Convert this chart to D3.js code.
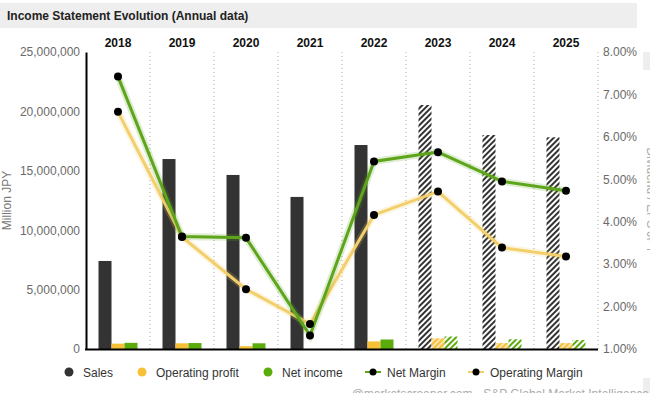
<!DOCTYPE html>
<html>
<head>
<meta charset="utf-8">
<script src="https://cdn.jsdelivr.net/npm/d3@7/dist/d3.min.js"></script>
<style>
  body { margin: 0; background: #fff; }
  svg { font-family: "Liberation Sans", Arial, sans-serif; display: block; }
</style>
</head>
<body>
<svg id="chart" width="650" height="393"></svg>
<script>
// values (million JPY / %)
var years = ["2018", "2019", "2020", "2021", "2022", "2023", "2024", "2025"];
var sales = [7.41e6, 15.99e6, 14.65e6, 12.8e6, 17.17e6, 20.54e6, 18.01e6, 17.82e6];
var opProfit = [0.45e6, 0.48e6, 0.24e6, null, 0.64e6, 0.9e6, 0.5e6, 0.5e6];
var netIncome = [0.52e6, 0.5e6, 0.48e6, null, 0.8e6, 1.05e6, 0.82e6, 0.76e6];
var netMargin = [7.42, 3.65, 3.62, 1.32, 5.42, 5.64, 4.95, 4.73];
var opMargin = [6.59, 3.64, 2.41, 1.59, 4.16, 4.71, 3.39, 3.18];
var estimated = ["2023", "2024", "2025"];
var leftTicks = [0, 5e6, 10e6, 15e6, 20e6, 25e6];
var rightTicks = [1, 2, 3, 4, 5, 6, 7, 8];

function setupChart() {
  var svg = d3.select("#chart");

  var left = 86, right = 598, plotTop = 52, bottom = 349;

  var x = d3.scaleBand().domain(years).range([left, right]);
  var xSub = d3.scaleBand().domain(["sales", "op", "net"]).range([0, 39]);
  var y = d3.scaleLinear().domain([0, 25e6]).range([bottom, plotTop]);
  var y2 = d3.scaleLinear().domain([1, 8]).range([bottom, plotTop]);

  var colors = { sales: "#333333", op: "#f6c137", net: "#5aab0c" };

  // hatch patterns for the estimated years
  var defs = svg.append("defs");
  Object.keys(colors).forEach(function(k) {
    var p = defs.append("pattern")
        .attr("id", "hatch-" + k)
        .attr("patternUnits", "userSpaceOnUse")
        .attr("width", 4).attr("height", 4)
        .attr("patternTransform", "rotate(45)");
    p.append("rect").attr("width", 4).attr("height", 4)
        .attr("fill", k === "op" ? "#fbe6b0" : "#fff");
    p.append("rect").attr("width", 2).attr("height", 4).attr("fill", colors[k]);
  });

  // title bar
  svg.append("rect").attr("x", 0).attr("y", 3).attr("width", 637).attr("height", 25).attr("fill", "#eeeeee");
  svg.append("text").attr("x", 7).attr("y", 20)
      .attr("font-size", 12).attr("font-weight", "bold").attr("fill", "#222")
      .text("Income Statement Evolution (Annual data)");
  svg.append("rect").attr("x", 643).attr("y", 52).attr("width", 7).attr("height", 18).attr("fill", "#eeeeee");
  svg.append("rect").attr("x", 643).attr("y", 378).attr("width", 7).attr("height", 15).attr("fill", "#eeeeee");

  // dotted separators
  svg.append("g").selectAll("line")
    .data(years)
    .enter().append("line")
      .attr("x1", d => x(d) + x.bandwidth())
      .attr("x2", d => x(d) + x.bandwidth())
      .attr("y1", plotTop).attr("y2", bottom)
      .attr("stroke", "#aaa").attr("stroke-width", 1)
      .attr("stroke-dasharray", "1,3");

  // year labels on top
  svg.append("g").selectAll("text")
    .data(years)
    .enter().append("text")
      .attr("x", d => x(d) + x.bandwidth() / 2)
      .attr("y", 47)
      .attr("text-anchor", "middle")
      .attr("font-size", 12).attr("font-weight", "bold").attr("fill", "#111")
      .text(d => d);

  // bars
  var barData = [];
  years.forEach(function(yr, i) {
    barData.push({ year: yr, key: "sales", value: sales[i] });
    barData.push({ year: yr, key: "op", value: opProfit[i] });
    barData.push({ year: yr, key: "net", value: netIncome[i] });
  });
  var bw = xSub.bandwidth();
  svg.append("g").selectAll("rect")
    .data(barData.filter(d => d.value != null))
    .enter().append("rect")
      .attr("x", d => x(d.year) + x.bandwidth() / 2 - 19.5 + xSub(d.key))
      .attr("width", bw)
      .attr("y", d => y(d.value))
      .attr("height", d => bottom - y(d.value))
      .attr("fill", d => estimated.indexOf(d.year) >= 0 ? "url(#hatch-" + d.key + ")" : colors[d.key]);

  // axes
  var leftAxis = svg.append("g")
      .attr("transform", "translate(" + left + ",0)")
      .call(d3.axisLeft(y).tickValues(leftTicks).tickFormat(d3.format(",")).tickSize(0).tickPadding(6));
  leftAxis.select(".domain").attr("stroke", "#000").attr("stroke-width", 2);
  leftAxis.selectAll("text").attr("font-size", 12).attr("fill", "#6a6a6a")
      .attr("font-family", "Liberation Sans, Arial, sans-serif");

  var rightAxis = svg.append("g")
      .attr("transform", "translate(" + right + ",0)")
      .call(d3.axisRight(y2).tickValues(rightTicks).tickFormat(d => d.toFixed(2) + "%").tickSize(0).tickPadding(5));
  rightAxis.select(".domain").remove();
  rightAxis.selectAll("text").attr("font-size", 12).attr("fill", "#6a6a6a")
      .attr("font-family", "Liberation Sans, Arial, sans-serif");

  svg.append("line")
      .attr("x1", left - 1).attr("x2", right)
      .attr("y1", bottom + 0.5).attr("y2", bottom + 0.5)
      .attr("stroke", "#000").attr("stroke-width", 2);

  svg.append("text")
      .attr("transform", "translate(11," + ((plotTop + bottom) / 2) + ") rotate(-90)")
      .attr("text-anchor", "middle")
      .attr("font-size", 12).attr("fill", "#777")
      .text("Million JPY");

  // right-hand axis title, mostly clipped by the frame as in the source
  svg.append("text")
      .attr("transform", "translate(647," + ((plotTop + bottom) / 2) + ") rotate(90)")
      .attr("text-anchor", "middle")
      .attr("font-size", 12).attr("fill", "#aaa")
      .text("Dividend / EPS  JPY");

  // margin lines
  function drawLine(values, color) {
    var line = d3.line()
        .x((d, i) => x(years[i]) + x.bandwidth() / 2)
        .y(d => y2(d));
    svg.append("path").datum(values)
        .attr("d", line).attr("fill", "none")
        .attr("stroke", color).attr("stroke-opacity", 0.2).attr("stroke-width", 7);
    svg.append("path").datum(values)
        .attr("d", line).attr("fill", "none")
        .attr("stroke", color).attr("stroke-width", 3);
  }
  drawLine(opMargin, "#f2cf6a");
  drawLine(netMargin, "#5ea51c");

  [opMargin, netMargin].forEach(function(vals) {
    svg.append("g").selectAll("circle")
      .data(vals)
      .enter().append("circle")
        .attr("cx", (d, i) => x(years[i]) + x.bandwidth() / 2)
        .attr("cy", d => y2(d))
        .attr("r", 4).attr("fill", "#000");
  });

  // legend
  var legend = [
    { label: "Sales", color: "#333333", type: "dot", x: 69 },
    { label: "Operating profit", color: "#f6c137", type: "dot", x: 142 },
    { label: "Net income", color: "#5aab0c", type: "dot", x: 268 },
    { label: "Net Margin", color: "#5ea51c", type: "line", x: 373 },
    { label: "Operating Margin", color: "#f2cf6a", type: "line", x: 476 }
  ];
  var lg = svg.append("g").selectAll("g").data(legend).enter().append("g")
      .attr("transform", d => "translate(" + d.x + ",372)");
  lg.filter(d => d.type === "dot").append("circle")
      .attr("r", 4.5).attr("fill", d => d.color);
  lg.filter(d => d.type === "line").append("line")
      .attr("x1", -8).attr("x2", 8).attr("stroke", d => d.color).attr("stroke-width", 2);
  lg.filter(d => d.type === "line").append("circle")
      .attr("r", 3.5).attr("fill", "#000");
  lg.append("text")
      .attr("x", 14)
      .attr("y", 4.5)
      .attr("font-size", 12).attr("fill", "#333")
      .text(d => d.label);

  svg.append("text")
      .attr("x", 649).attr("y", 398)
      .attr("text-anchor", "end")
      .attr("font-size", 12).attr("fill", "#aaa")
      .text("@marketscreener.com - S&P Global Market Intelligence");
}

setupChart();
</script>
</body>
</html>
